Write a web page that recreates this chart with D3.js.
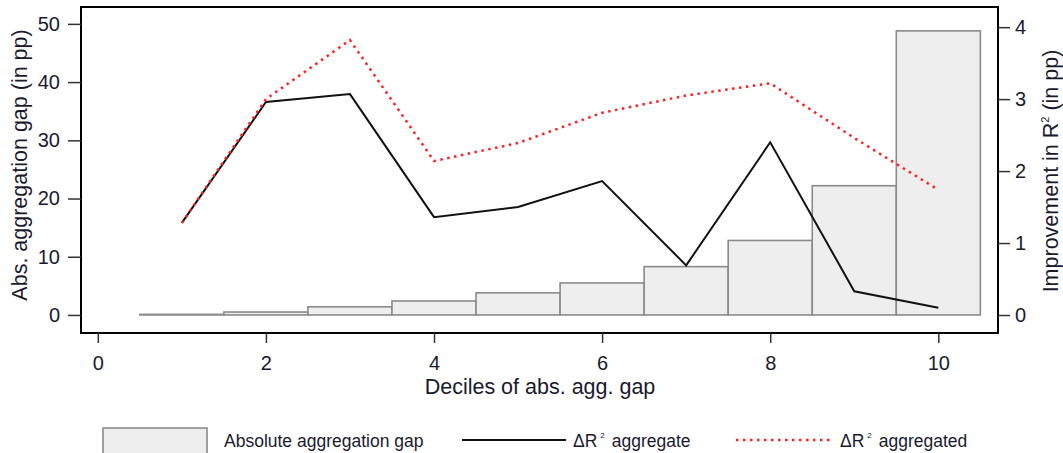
<!DOCTYPE html>
<html>
<head>
<meta charset="utf-8">
<script src="https://cdn.jsdelivr.net/npm/d3@7"></script>
<style>
  body { margin: 0; background: #fff; }
  svg text { font-family: "Liberation Sans", Arial, sans-serif; fill: #1a1a2e; }
</style>
</head>
<body>
<div id="chart"></div>
<script>
// deciles and values
const deciles = [1, 2, 3, 4, 5, 6, 7, 8, 9, 10];
const gapValues = [0.1, 0.5, 1.4, 2.4, 3.8, 5.5, 8.3, 12.8, 22.2, 48.8];
const r2Aggregate = [1.28, 2.96, 3.07, 1.36, 1.50, 1.86, 0.69, 2.40, 0.33, 0.10];
const r2Aggregated = [1.28, 3.00, 3.82, 2.14, 2.39, 2.81, 3.05, 3.22, 2.46, 1.74];
const xTicks = [0, 2, 4, 6, 8, 10];
const leftTicks = [0, 10, 20, 30, 40, 50];
const rightTicks = [0, 1, 2, 3, 4];

const width = 1063, height = 453;
const plot = {left: 81, right: 998, top: 7, bottom: 333};

const svg = d3.select('#chart').append('svg')
  .attr('width', width)
  .attr('height', height);

const x = d3.scaleLinear().domain([-0.2, 10.71]).range([plot.left, plot.right]);
const yL = d3.scaleLinear().domain([-3.1, 52.9]).range([plot.bottom, plot.top]);
const yR = d3.scaleLinear().domain([-0.25, 4.28]).range([plot.bottom, plot.top]);

// bars
svg.append('g').selectAll('rect')
  .data(deciles)
  .join('rect')
  .attr('x', (d) => x(d - 0.5))
  .attr('width', (d) => x(d + 0.5) - x(d - 0.5))
  .attr('y', (d, i) => yL(gapValues[i]))
  .attr('height', (d, i) => yL(0) - yL(gapValues[i]))
  .attr('fill', '#eeeeee')
  .attr('stroke', '#8a8a8a')
  .attr('stroke-width', 1.6);

const line = (vals) => d3.line()
  .x((d) => x(d))
  .y((d, i) => yR(vals[i]))(deciles);

svg.append('path')
  .attr('d', line(r2Aggregate))
  .attr('fill', 'none')
  .attr('stroke', '#111')
  .attr('stroke-width', 2);

svg.append('path')
  .attr('d', line(r2Aggregated))
  .attr('fill', 'none')
  .attr('stroke', '#ff2020')
  .attr('stroke-width', 2.5)
  .attr('stroke-dasharray', '2.5,4.5');

// frame
svg.append('rect')
  .attr('x', plot.left)
  .attr('y', plot.top)
  .attr('width', plot.right - plot.left)
  .attr('height', plot.bottom - plot.top)
  .attr('fill', 'none')
  .attr('stroke', '#000')
  .attr('stroke-width', 2);

// axes
const styleAxis = (g) => {
  g.select('.domain').remove();
  g.selectAll('.tick line').attr('stroke', '#333').attr('stroke-width', 1.5);
  g.selectAll('.tick text')
    .style('font-size', '20px')
    .style('font-family', '"Liberation Sans", Arial, sans-serif')
    .attr('fill', '#1a1a2e');
};

svg.append('g')
  .attr('transform', 'translate(0,' + plot.bottom + ')')
  .call(d3.axisBottom(x).tickValues(xTicks).tickSize(10).tickPadding(13))
  .call(styleAxis);

svg.append('g')
  .attr('transform', 'translate(' + plot.left + ',0)')
  .call(d3.axisLeft(yL).tickValues(leftTicks).tickSize(13).tickPadding(8))
  .call(styleAxis);

svg.append('g')
  .attr('transform', 'translate(' + plot.right + ',0)')
  .call(d3.axisRight(yR).tickValues(rightTicks).tickFormat(d3.format('d')).tickSize(12).tickPadding(5))
  .call(styleAxis);

// axis titles
svg.append('text')
  .attr('x', 540).attr('y', 394)
  .attr('text-anchor', 'middle')
  .style('font-size', '21.5px')
  .text('Deciles of abs. agg. gap');

svg.append('text')
  .attr('transform', 'translate(27,165) rotate(-90)')
  .attr('text-anchor', 'middle')
  .style('font-size', '21.5px')
  .text('Abs. aggregation gap (in pp)');

const rt = svg.append('text')
  .attr('transform', 'translate(1058,171) rotate(-90)')
  .attr('text-anchor', 'middle')
  .style('font-size', '21.5px');
rt.append('tspan').text('Improvement in R');
rt.append('tspan').attr('dy', -9).style('font-size', '11px').text('2');
rt.append('tspan').attr('dy', 9).text(' (in pp)');

// legend
const leg = svg.append('g')
  .style('font-size', '17.5px');

leg.append('rect')
  .attr('x', 103).attr('y', 428).attr('width', 104).attr('height', 30)
  .attr('fill', '#eeeeee').attr('stroke', '#8a8a8a').attr('stroke-width', 1.6);
leg.append('text').attr('x', 224).attr('y', 447).text('Absolute aggregation gap');

leg.append('line').attr('x1', 462).attr('x2', 566).attr('y1', 440).attr('y2', 440)
  .attr('stroke', '#111').attr('stroke-width', 2);
const t1 = leg.append('text').attr('x', 573).attr('y', 447);
t1.append('tspan').text('ΔR');
t1.append('tspan').attr('dy', -9).attr('dx', 3).style('font-size', '8px').text('2');
t1.append('tspan').attr('dy', 9).attr('dx', 7).text('aggregate');

leg.append('line').attr('x1', 736).attr('x2', 831).attr('y1', 440).attr('y2', 440)
  .attr('stroke', '#ff2020').attr('stroke-width', 2.5).attr('stroke-dasharray', '2.5,4.5');
const t2 = leg.append('text').attr('x', 840).attr('y', 447);
t2.append('tspan').text('ΔR');
t2.append('tspan').attr('dy', -9).attr('dx', 3).style('font-size', '8px').text('2');
t2.append('tspan').attr('dy', 9).attr('dx', 7).text('aggregated');
</script>
</body>
</html>
